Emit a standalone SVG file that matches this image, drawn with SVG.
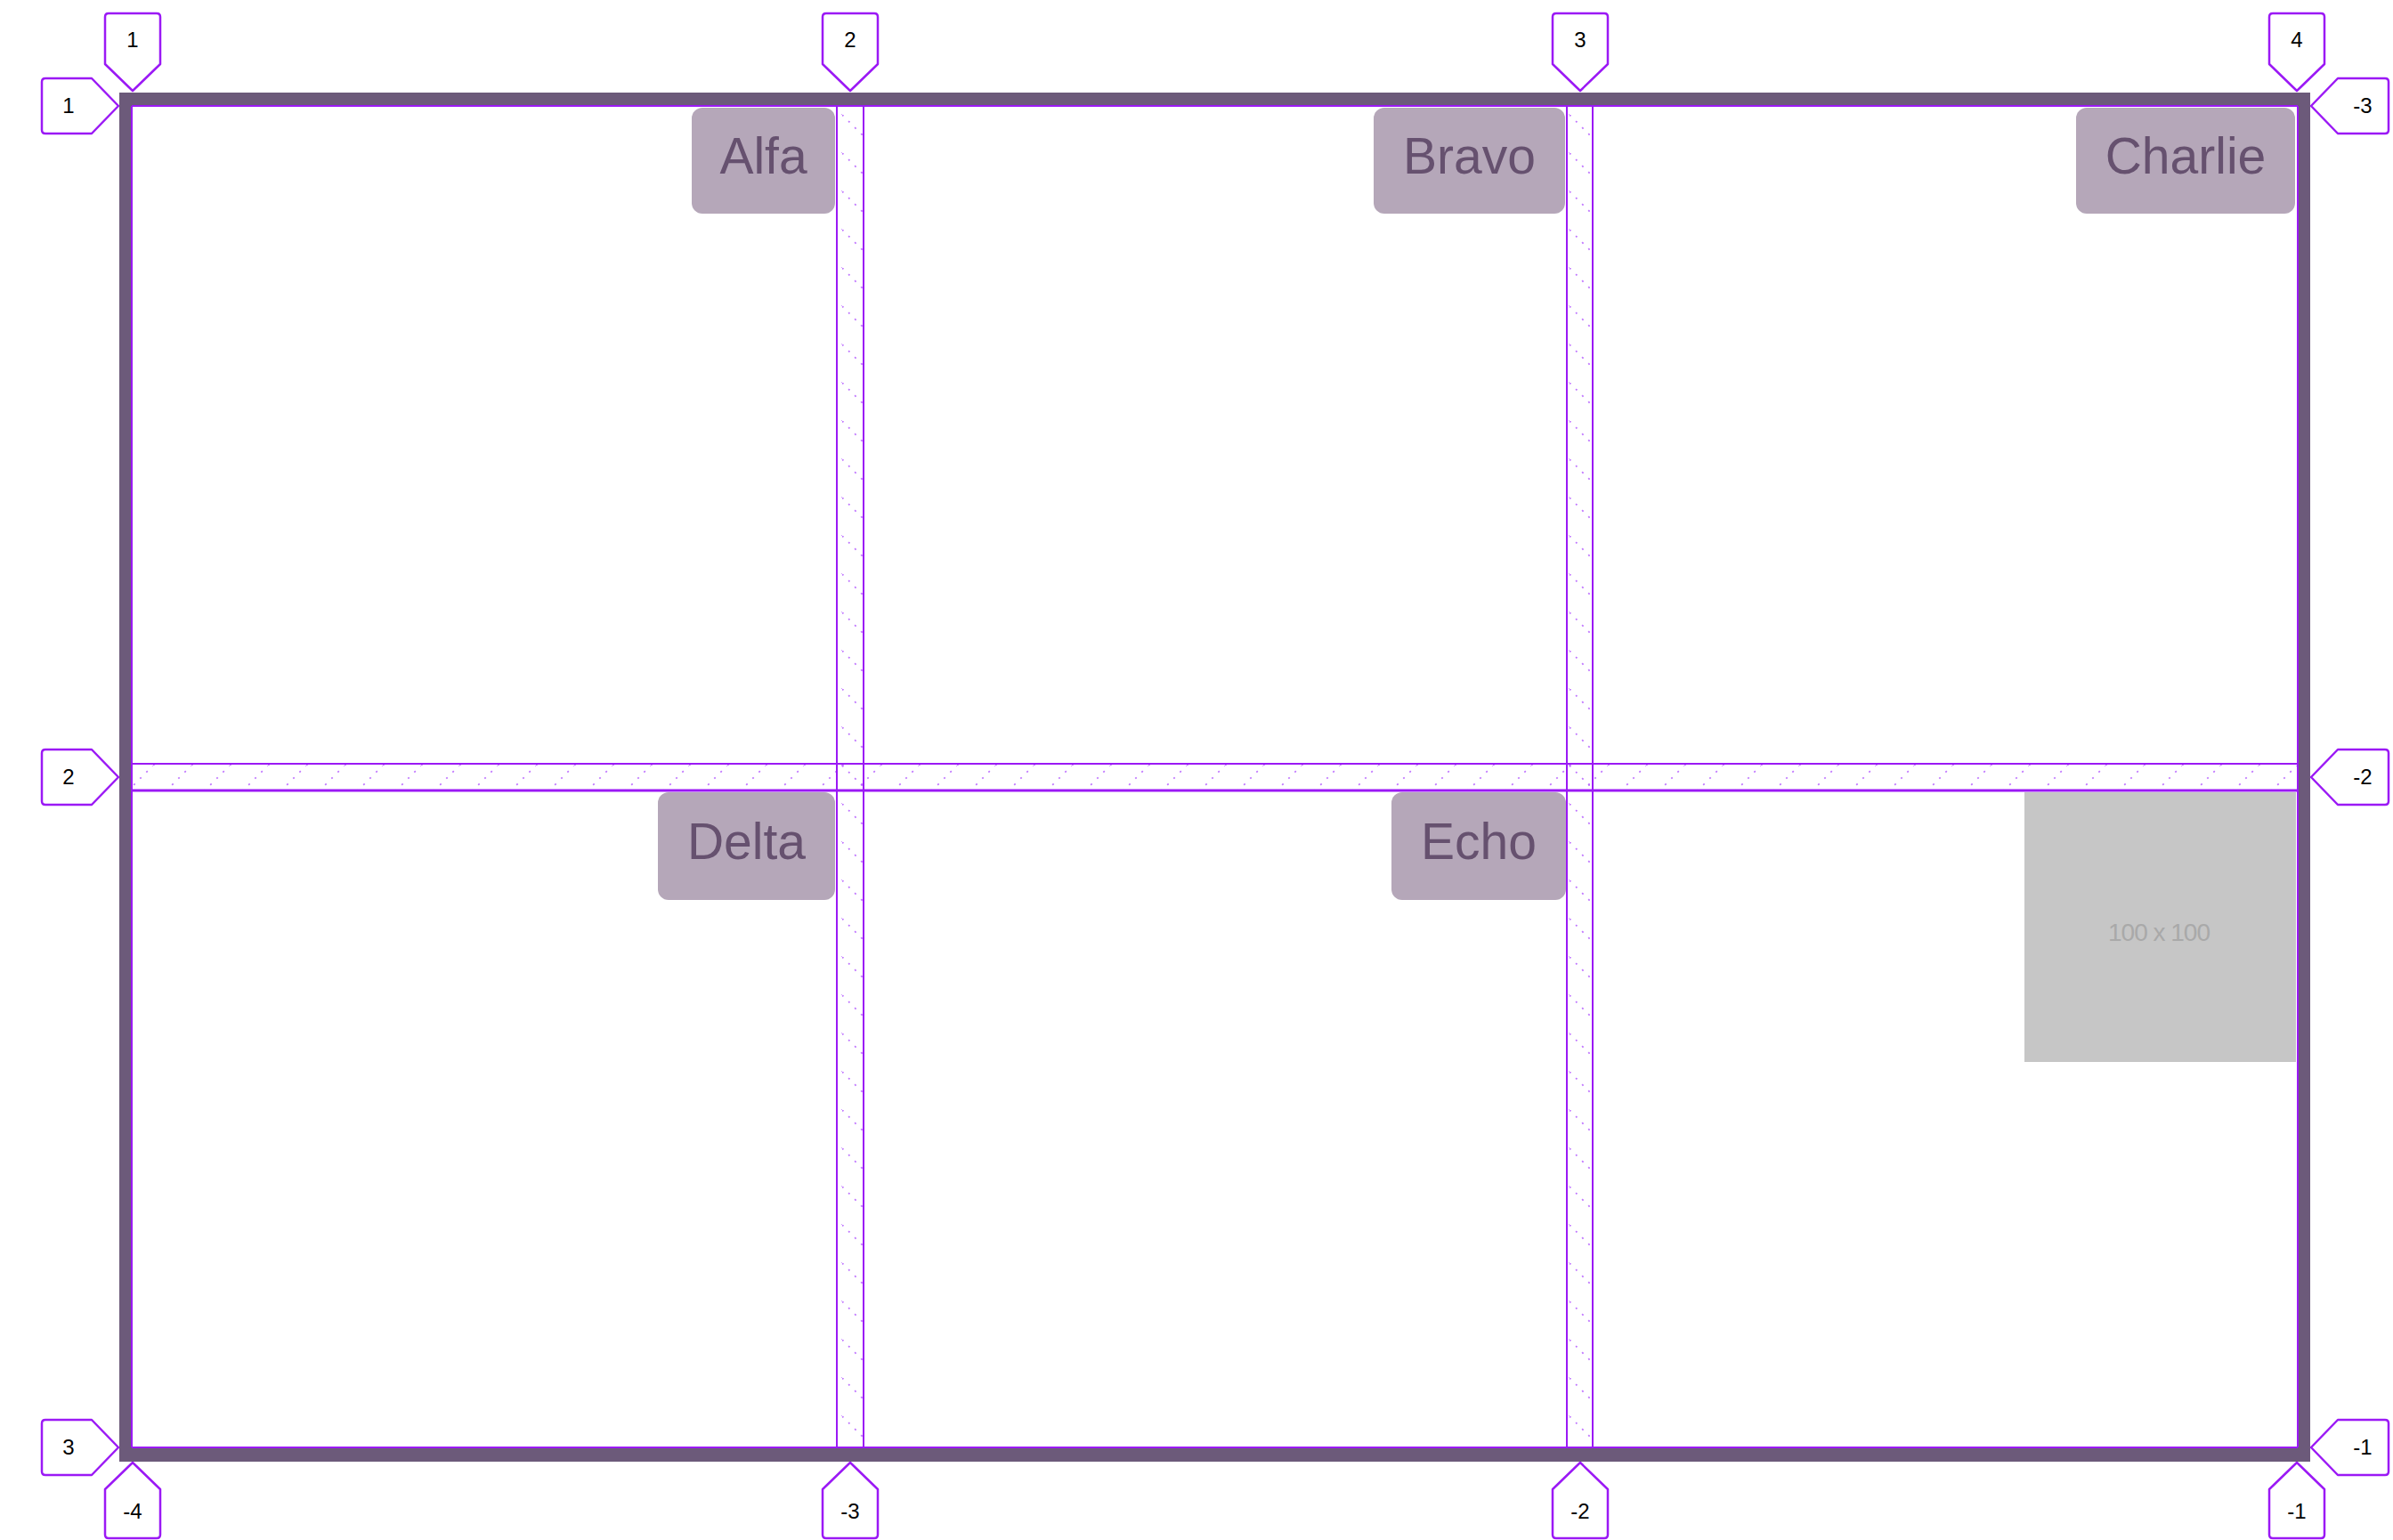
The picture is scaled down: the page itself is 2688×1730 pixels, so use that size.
<svg xmlns="http://www.w3.org/2000/svg" width="2688" height="1730" viewBox="0 0 2688 1730">
<style>
.border{fill:none;stroke:#6c5a7a;stroke-width:15}
.gl{stroke:#9b19f5;stroke-width:2;fill:none}
.gl3{stroke:#9b19f5;stroke-width:3;fill:none}
.item{fill:#b5a7b9}
.itxt{font-family:"Liberation Sans",Arial,sans-serif;font-size:57px;fill:#66516f;text-anchor:middle}
.lbl{fill:#fff;stroke:#9b19f5;stroke-width:2.5;stroke-linejoin:round}
.ltxt{font-family:"Liberation Sans",Arial,sans-serif;font-size:24px;fill:#000;text-anchor:middle}
.ph{fill:#c6c6c6}
.phtxt{font-family:"Liberation Sans",Arial,sans-serif;font-size:28px;fill:#a9a9a9;text-anchor:middle;letter-spacing:-1px}
</style>
<defs>
<pattern id="hatchV" patternUnits="userSpaceOnUse" width="43" height="43">
<line x1="0" y1="0" x2="43" y2="43" stroke="#b45cff" stroke-width="1.8" stroke-dasharray="2 8" opacity="0.85"/>
</pattern>
<pattern id="hatchH" patternUnits="userSpaceOnUse" width="43" height="43">
<line x1="0" y1="43" x2="43" y2="0" stroke="#b45cff" stroke-width="1.8" stroke-dasharray="2 8" opacity="0.85"/>
</pattern>
</defs>
<rect width="2688" height="1730" fill="#fff"/>

<g id="container">
<rect class="border" x="141.5" y="111.5" width="2446" height="1523"/>
</g>

<g id="gaps">
<rect x="940" y="119" width="30" height="1507" fill="url(#hatchV)"/>
<rect x="1760" y="119" width="30" height="1507" fill="url(#hatchV)"/>
<rect x="149" y="858" width="2431" height="30" fill="url(#hatchH)"/>
</g>

<g id="placeholder">
<rect class="ph" x="2274" y="890" width="305" height="303"/>
<text class="phtxt" x="2425" y="1057">100 x 100</text>
</g>

<g id="items">
<g id="alfa"><rect class="item" x="777" y="121" width="161" height="119" rx="12"/><text class="itxt" x="857.5" y="195">Alfa</text></g>
<g id="bravo"><rect class="item" x="1543" y="121" width="215" height="119" rx="12"/><text class="itxt" x="1650.5" y="195">Bravo</text></g>
<g id="charlie"><rect class="item" x="2332" y="121" width="246" height="119" rx="12"/><text class="itxt" x="2455" y="195">Charlie</text></g>
<g id="delta"><rect class="item" x="739" y="890" width="199" height="121" rx="12"/><text class="itxt" x="838.5" y="965">Delta</text></g>
<g id="echo"><rect class="item" x="1563" y="890" width="196" height="121" rx="12"/><text class="itxt" x="1661" y="965">Echo</text></g>
</g>

<g id="connectors">
<line class="gl" x1="148" y1="119" x2="2581" y2="119"/>
<line class="gl" x1="148" y1="1626" x2="2581" y2="1626"/>
<line class="gl" x1="148" y1="119" x2="148" y2="1626"/>
<line class="gl" x1="2581" y1="119" x2="2581" y2="1626"/>
<line class="gl" x1="940" y1="119" x2="940" y2="1626"/>
<line class="gl" x1="970" y1="119" x2="970" y2="1626"/>
<line class="gl" x1="1760" y1="119" x2="1760" y2="1626"/>
<line class="gl" x1="1789" y1="119" x2="1789" y2="1626"/>
<line class="gl" x1="149" y1="858" x2="2580" y2="858"/>
<line class="gl3" x1="149" y1="888" x2="2580" y2="888"/>
</g>

<g id="labels">
<g id="top-1"><path class="lbl" d="M118,72 V19 Q118,15 122,15 H176 Q180,15 180,19 V72 L149,102 Z"/><text class="ltxt" x="149" y="53">1</text></g>
<g id="top-2"><path class="lbl" d="M924,72 V19 Q924,15 928,15 H982 Q986,15 986,19 V72 L955,102 Z"/><text class="ltxt" x="955" y="53">2</text></g>
<g id="top-3"><path class="lbl" d="M1744,72 V19 Q1744,15 1748,15 H1802 Q1806,15 1806,19 V72 L1775,102 Z"/><text class="ltxt" x="1775" y="53">3</text></g>
<g id="top-4"><path class="lbl" d="M2549,72 V19 Q2549,15 2553,15 H2607 Q2611,15 2611,19 V72 L2580,102 Z"/><text class="ltxt" x="2580" y="53">4</text></g>

<g id="bot-m4"><path class="lbl" d="M118,1673 V1724 Q118,1728 122,1728 H176 Q180,1728 180,1724 V1673 L149,1643 Z"/><text class="ltxt" x="149" y="1706">-4</text></g>
<g id="bot-m3"><path class="lbl" d="M924,1673 V1724 Q924,1728 928,1728 H982 Q986,1728 986,1724 V1673 L955,1643 Z"/><text class="ltxt" x="955" y="1706">-3</text></g>
<g id="bot-m2"><path class="lbl" d="M1744,1673 V1724 Q1744,1728 1748,1728 H1802 Q1806,1728 1806,1724 V1673 L1775,1643 Z"/><text class="ltxt" x="1775" y="1706">-2</text></g>
<g id="bot-m1"><path class="lbl" d="M2549,1673 V1724 Q2549,1728 2553,1728 H2607 Q2611,1728 2611,1724 V1673 L2580,1643 Z"/><text class="ltxt" x="2580" y="1706">-1</text></g>

<g id="left-1"><path class="lbl" d="M133,119 L103,88 H51 Q47,88 47,92 V146 Q47,150 51,150 H103 Z"/><text class="ltxt" x="77" y="127">1</text></g>
<g id="left-2"><path class="lbl" d="M133,873 L103,842 H51 Q47,842 47,846 V900 Q47,904 51,904 H103 Z"/><text class="ltxt" x="77" y="881">2</text></g>
<g id="left-3"><path class="lbl" d="M133,1626 L103,1595 H51 Q47,1595 47,1599 V1653 Q47,1657 51,1657 H103 Z"/><text class="ltxt" x="77" y="1634">3</text></g>

<g id="right-m3"><path class="lbl" d="M2596,119 L2626,88 H2679 Q2683,88 2683,92 V146 Q2683,150 2679,150 H2626 Z"/><text class="ltxt" x="2654" y="127">-3</text></g>
<g id="right-m2"><path class="lbl" d="M2596,873 L2626,842 H2679 Q2683,842 2683,846 V900 Q2683,904 2679,904 H2626 Z"/><text class="ltxt" x="2654" y="881">-2</text></g>
<g id="right-m1"><path class="lbl" d="M2596,1626 L2626,1595 H2679 Q2683,1595 2683,1599 V1653 Q2683,1657 2679,1657 H2626 Z"/><text class="ltxt" x="2654" y="1634">-1</text></g>
</g>
</svg>
